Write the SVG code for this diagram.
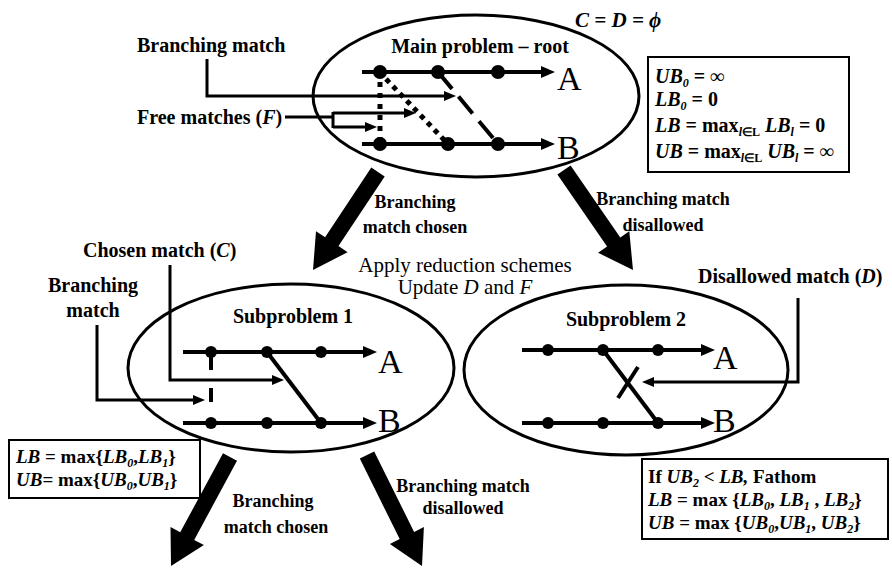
<svg xmlns="http://www.w3.org/2000/svg" width="892" height="568" viewBox="0 0 892 568">
<defs>
<style>
.e{fill:none;stroke:#000;stroke-width:3}
.ln{fill:none;stroke:#000;stroke-width:4}
.c{fill:none;stroke:#000;stroke-width:3}
.t{font-family:"Liberation Serif","Times New Roman",serif;font-weight:bold;fill:#000}
.lb{font-size:20px}
.sm{font-size:18px}
.rg{font-weight:normal;font-size:21px}
.big{font-family:"Liberation Serif","Times New Roman",serif;font-size:34px;fill:#000}
.bx{fill:#fff;stroke:#000;stroke-width:2}
.i{font-style:italic}
.sub{font-size:12px}
</style>
<marker id="ah" markerUnits="userSpaceOnUse" markerWidth="14" markerHeight="12" refX="1" refY="6" orient="auto"><path d="M0,0 L14,6 L0,12 z"/></marker>
<marker id="ac" markerUnits="userSpaceOnUse" markerWidth="12" markerHeight="10" refX="1" refY="5" orient="auto"><path d="M0,0 L12,5 L0,10 z"/></marker>
</defs>
<rect width="892" height="568" fill="#fff"/>

<g id="root">
<ellipse class="e" cx="476" cy="96" rx="163" ry="81"/>
<text class="t lb" x="480" y="53" text-anchor="middle">Main problem – root</text>
<line class="ln" x1="362" y1="72" x2="542" y2="72" marker-end="url(#ah)"/>
<line class="ln" x1="362" y1="144" x2="542" y2="144" marker-end="url(#ah)"/>
<line x1="438" y1="72" x2="498" y2="144" stroke="#000" stroke-width="4" stroke-dasharray="22 10"/>
<line x1="386" y1="79" x2="448" y2="144" stroke="#000" stroke-width="5" stroke-dasharray="5 5"/>
<line x1="380" y1="82" x2="380" y2="138" stroke="#000" stroke-width="5" stroke-dasharray="5 6"/>
<circle cx="380" cy="72" r="7"/><circle cx="438" cy="72" r="7"/><circle cx="498" cy="72" r="7"/>
<circle cx="380" cy="144" r="7"/><circle cx="448" cy="144" r="7"/><circle cx="498" cy="144" r="7"/>
<text class="big" x="557" y="90">A</text>
<text class="big" x="557" y="159">B</text>
</g>

<g id="sub1">
<ellipse class="e" cx="291" cy="368" rx="163" ry="84"/>
<text class="t lb" x="293" y="323" text-anchor="middle">Subproblem 1</text>
<line class="ln" x1="183" y1="352" x2="364" y2="352" marker-end="url(#ah)"/>
<line class="ln" x1="183" y1="423" x2="364" y2="423" marker-end="url(#ah)"/>
<line class="ln" x1="267" y1="352" x2="321" y2="423"/>
<line class="ln" x1="211" y1="352" x2="211" y2="370"/>
<line class="ln" x1="211" y1="388" x2="211" y2="402"/>
<circle cx="211" cy="352" r="6"/><circle cx="267" cy="352" r="6"/><circle cx="321" cy="352" r="6"/>
<circle cx="211" cy="423" r="6"/><circle cx="267" cy="423" r="6"/><circle cx="321" cy="423" r="6"/>
<text class="big" x="378" y="373">A</text>
<text class="big" x="378" y="432">B</text>
</g>

<g id="sub2">
<ellipse class="e" cx="626" cy="370" rx="162" ry="85"/>
<text class="t lb" x="626" y="326" text-anchor="middle">Subproblem 2</text>
<line class="ln" x1="522" y1="350" x2="702" y2="350" marker-end="url(#ah)"/>
<line class="ln" x1="522" y1="423" x2="702" y2="423" marker-end="url(#ah)"/>
<line class="ln" x1="603" y1="350" x2="658" y2="423"/>
<line class="ln" x1="618" y1="398" x2="638" y2="367"/>
<circle cx="548" cy="350" r="6"/><circle cx="603" cy="350" r="6"/><circle cx="658" cy="350" r="6"/>
<circle cx="548" cy="423" r="6"/><circle cx="603" cy="423" r="6"/><circle cx="658" cy="423" r="6"/>
<text class="big" x="713" y="369">A</text>
<text class="big" x="713" y="432">B</text>
</g>

<g id="box-root">
<rect class="bx" x="648" y="57" width="201" height="115"/>
<text class="t" x="655" y="83" font-size="20"><tspan class="i">UB</tspan><tspan class="sub i" dy="4">0</tspan><tspan dy="-4"> = ∞</tspan></text>
<text class="t" x="655" y="106" font-size="20"><tspan class="i">LB</tspan><tspan class="sub i" dy="4">0</tspan><tspan dy="-4"> = 0</tspan></text>
<text class="t" x="655" y="132" font-size="20"><tspan class="i">LB</tspan> = max<tspan class="sub" dy="4"><tspan class="i">l</tspan>∈L</tspan><tspan dy="-4" class="i"> LB</tspan><tspan class="sub i" dy="4">l</tspan><tspan dy="-4"> = 0</tspan></text>
<text class="t" x="655" y="158" font-size="20"><tspan class="i">UB</tspan> = max<tspan class="sub" dy="4"><tspan class="i">l</tspan>∈L</tspan><tspan dy="-4" class="i"> UB</tspan><tspan class="sub i" dy="4">l</tspan><tspan dy="-4"> = ∞</tspan></text>
</g>

<g id="box-sub1">
<rect class="bx" x="9" y="440" width="191" height="58"/>
<text class="t" x="16" y="463" font-size="19"><tspan class="i">LB</tspan> = max{<tspan class="i">LB</tspan><tspan class="sub i" dy="4">0</tspan><tspan dy="-4">,</tspan><tspan class="i">LB</tspan><tspan class="sub i" dy="4">1</tspan><tspan dy="-4">}</tspan></text>
<text class="t" x="16" y="486" font-size="19"><tspan class="i">UB</tspan>= max{<tspan class="i">UB</tspan><tspan class="sub i" dy="4">0</tspan><tspan dy="-4">,</tspan><tspan class="i">UB</tspan><tspan class="sub i" dy="4">1</tspan><tspan dy="-4">}</tspan></text>
</g>

<g id="box-sub2">
<rect class="bx" x="642" y="459" width="246" height="80"/>
<text class="t" x="648" y="483" font-size="19">If <tspan class="i">UB</tspan><tspan class="sub i" dy="4">2</tspan><tspan class="i" dy="-4"> &lt; LB,</tspan>  Fathom</text>
<text class="t" x="648" y="506" font-size="19"><tspan class="i">LB</tspan> = max {<tspan class="i">LB</tspan><tspan class="sub i" dy="4">0</tspan><tspan dy="-4">, </tspan><tspan class="i">LB</tspan><tspan class="sub i" dy="4">1</tspan><tspan dy="-4"> , </tspan><tspan class="i">LB</tspan><tspan class="sub i" dy="4">2</tspan><tspan dy="-4">}</tspan></text>
<text class="t" x="648" y="529" font-size="19"><tspan class="i">UB</tspan> = max {<tspan class="i">UB</tspan><tspan class="sub i" dy="4">0</tspan><tspan dy="-4">,</tspan><tspan class="i">UB</tspan><tspan class="sub i" dy="4">1</tspan><tspan dy="-4">, </tspan><tspan class="i">UB</tspan><tspan class="sub i" dy="4">2</tspan><tspan dy="-4">}</tspan></text>
</g>

<g id="labels">
<text class="t lb" x="137" y="52">Branching match</text>
<text class="t lb" x="137" y="124">Free matches (<tspan class="i">F</tspan>)</text>
<text class="t i" x="575" y="27" font-size="21">C = D = ϕ</text>
<text class="t sm" x="415" y="208" text-anchor="middle">Branching</text>
<text class="t sm" x="415" y="233" text-anchor="middle">match chosen</text>
<text class="t sm" x="663" y="205" text-anchor="middle">Branching match</text>
<text class="t sm" x="663" y="231" text-anchor="middle">disallowed</text>
<text class="t lb" x="83" y="257">Chosen match (<tspan class="i">C</tspan>)</text>
<text class="t rg" x="465" y="272" text-anchor="middle">Apply reduction schemes</text>
<text class="t rg" x="465" y="294" text-anchor="middle">Update <tspan class="i">D</tspan> and <tspan class="i">F</tspan></text>
<text class="t lb" x="698" y="283">Disallowed match (<tspan class="i">D</tspan>)</text>
<text class="t lb" x="93" y="292" text-anchor="middle">Branching</text>
<text class="t lb" x="93" y="317" text-anchor="middle">match</text>
<text class="t sm" x="273" y="507" text-anchor="middle">Branching</text>
<text class="t sm" x="276" y="533" text-anchor="middle">match chosen</text>
<text class="t sm" x="463" y="492" text-anchor="middle">Branching match</text>
<text class="t sm" x="463" y="514" text-anchor="middle">disallowed</text>
</g>

<g id="connectors">
<path class="c" d="M207,59 V96 H445" marker-end="url(#ac)"/>
<path class="c" d="M285,117 H333"/>
<path class="c" d="M333,112 V128"/>
<path class="c" d="M333,113 H405" marker-end="url(#ac)"/>
<path class="c" d="M333,127 H366" marker-end="url(#ac)"/>
<path class="c" d="M170,265 V380 H273" marker-end="url(#ac)"/>
<path class="c" d="M97,325 V400 H194" marker-end="url(#ac)"/>
<path class="c" d="M798,298 V382 H653" marker-end="url(#ac)"/>
<polygon points="371.3,167.6 384.7,176.4 338.5,246.1 347.6,252.2 313,270 316,231.2 325.1,237.3"/>
<polygon points="557.4,174.5 570.6,165.5 620.3,237.5 629.3,231.2 633,270 598.1,252.8 607.1,246.5"/>
<polygon points="223,453.2 237,460.8 194.2,539.9 203.9,545.1 171,566 170.5,527.1 180.2,532.3"/>
<polygon points="359.8,458.6 374.2,451.4 414.1,531.9 423.9,527.1 422,566 389.9,543.9 399.7,539.1"/>
</g>
</svg>
